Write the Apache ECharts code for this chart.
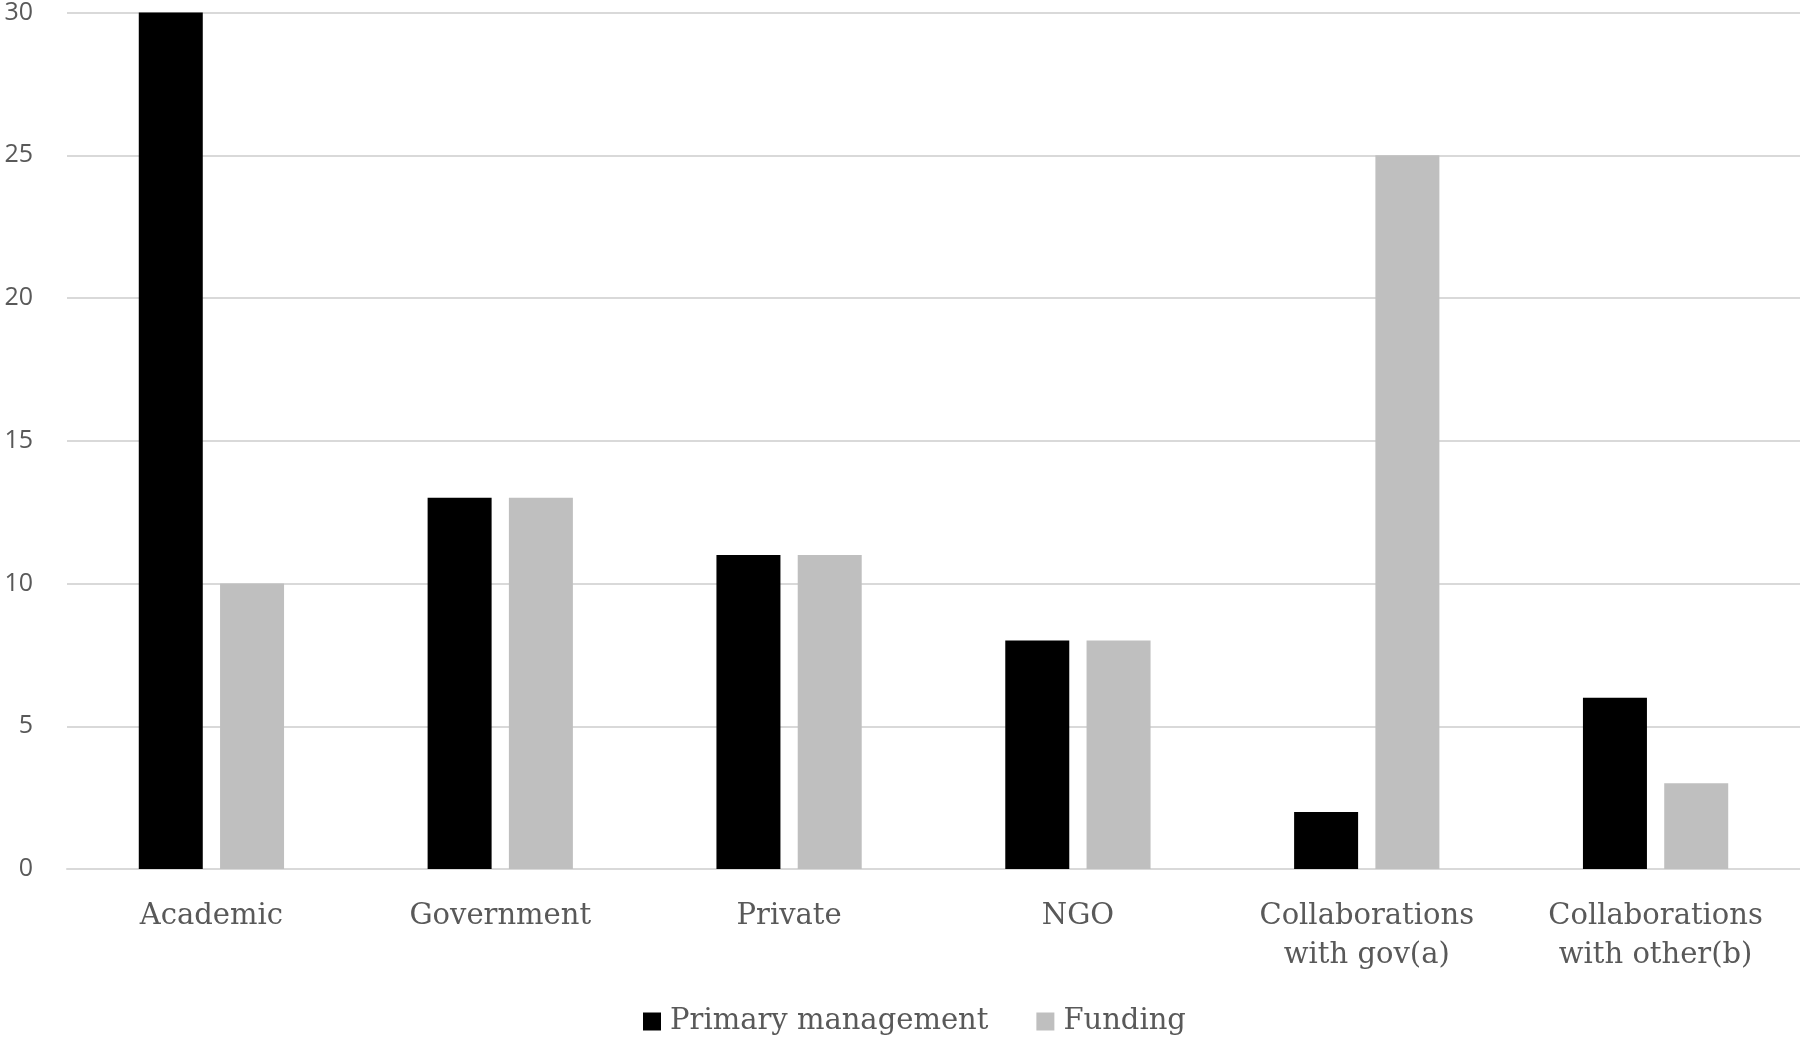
<!DOCTYPE html>
<html>
<head>
<meta charset="utf-8">
<script src="https://cdn.jsdelivr.net/npm/echarts@6/dist/echarts.min.js"></script>
<style>
html,body{margin:0;padding:0;background:#fff;}
#chart{width:1800px;height:1037px;}
</style>
</head>
<body>
<div id="chart"></div>
<script>
const categories = ['Academic', 'Government', 'Private', 'NGO', 'Collaborations\nwith gov(a)', 'Collaborations\nwith other(b)'];
const primaryManagement = [30, 13, 11, 8, 2, 6];
const funding = [10, 13, 11, 8, 25, 3];
const seriesNames = ['Primary management', 'Funding'];

const chart = echarts.init(document.getElementById('chart'));
const serif = '"DejaVu Serif", "Liberation Serif", serif';
chart.setOption({
  animation: false,
  backgroundColor: '#ffffff',
  grid: { left: 67, right: 0, top: 12, bottom: 168, containLabel: false },
  legend: {
    bottom: -4,
    left: 638,
    itemWidth: 18,
    itemHeight: 18,
    itemGap: 48,
    icon: 'rect',
    textStyle: { fontFamily: serif, fontSize: 29, color: '#595959', padding: [0, 0, 0, 4] },
    data: seriesNames
  },
  xAxis: {
    type: 'category',
    data: categories,
    axisLine: { show: true, lineStyle: { color: '#d9d9d9', width: 2 } },
    axisTick: { show: false },
    axisLabel: { fontFamily: serif, fontSize: 29, color: '#595959', margin: 28, lineHeight: 39, interval: 0 }
  },
  yAxis: {
    type: 'value',
    min: 0,
    max: 30,
    interval: 5,
    axisLine: { show: false },
    axisTick: { show: false },
    splitLine: { lineStyle: { color: '#d9d9d9', width: 2 } },
    axisLabel: { fontFamily: '"Open Sans", "Liberation Sans", sans-serif', fontSize: 25, color: '#595959', margin: 34 }
  },
  series: [
    { name: seriesNames[0], type: 'bar', data: primaryManagement, barWidth: 64, barGap: '27%', itemStyle: { color: '#000000' } },
    { name: seriesNames[1], type: 'bar', data: funding, barWidth: 64, itemStyle: { color: '#bfbfbf' } }
  ]
});
</script>
</body>
</html>
